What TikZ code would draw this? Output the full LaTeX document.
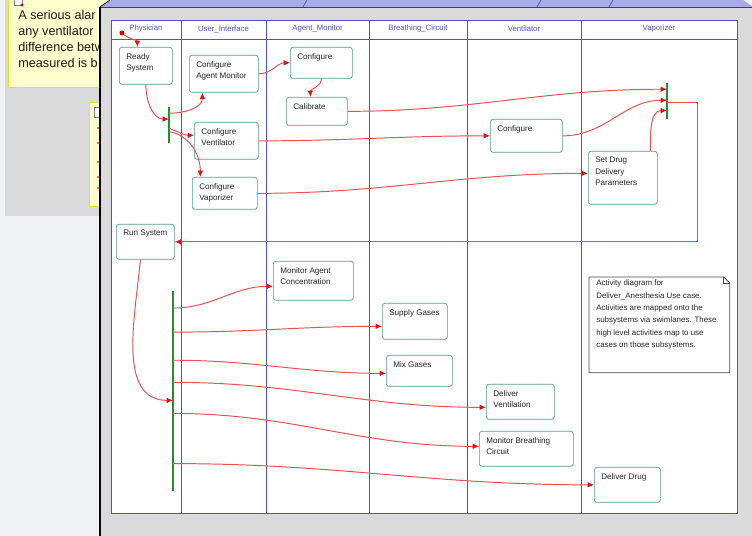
\documentclass[tikz,border=0pt]{standalone}
\usepackage{fontspec}
\setmainfont{Liberation Sans}
\usetikzlibrary{positioning}
\usetikzlibrary{calc}
\usetikzlibrary{arrows.meta}
\definecolor{Lane}{RGB}{80,80,215}
\definecolor{Flow}{RGB}{236,80,80}
\definecolor{Tip}{RGB}{220,20,20}
\definecolor{Bar}{RGB}{40,140,50}
\definecolor{Act}{RGB}{80,160,130}
\definecolor{Memo}{RGB}{255,255,205}
\definecolor{MemoLine}{RGB}{232,228,20}
\definecolor{Panel}{RGB}{218,218,218}
\definecolor{Desk}{RGB}{239,241,245}
\definecolor{Title}{RGB}{165,172,232}

\begin{document}
\begin{tikzpicture}[x=0.02cm, y=-0.02cm, >={Latex[length=3.6pt,width=3.2pt,color=Tip]},
    every node/.style={inner sep=0pt},
    act/.style 2 args={draw=Act, fill=white, rounded corners=1.5pt, anchor=north west,
      minimum width=#1*0.02cm, minimum height=#2*0.02cm},
    txt/.style={anchor=north west, align=left, xshift=0.14cm, yshift=-0.12cm,
      text=black!85, font=\fontsize{4.6}{6.5}\selectfont},
    lanename/.style={text=Lane, font=\fontsize{4.4}{5}\selectfont},
    bar/.style={fill=Bar, minimum width=1.6pt, anchor=north},
    flow/.style={Flow, line width=0.55pt, ->}]
  \useasboundingbox (0,0) rectangle (752,536);

  % desktop behind the window
  \fill[Desk] (0,0) rectangle (752,536);
  \fill[Panel] (5,0) rectangle (100,216);
  \draw[MemoLine, fill=Memo] (8,-2) rectangle (300,87);
  \draw[gray, fill=white, line width=0.3pt] (14,-1) rectangle (22,5);
  \fill[red!80!black] (22,5) circle (0.9pt);
  \node[anchor=north west, align=left, text=black!90, font=\fontsize{7.2}{9.07}\selectfont]
    (memotxt) at (18,10) {A serious alar\\any ventilator\\difference betw\\measured is b};
  \draw[MemoLine, fill=Memo] (89,102) rectangle (120,206);
  \draw[gray, fill=white, line width=0.3pt] (94,107) rectangle (101,117);
  \foreach \y in {128,143,162,177,188}
    \draw[orange, line width=0.8pt] (97,\y) -- (100,\y);

  % the editor window
  \fill[Panel] (100,7) rectangle (752,536);
  \fill[Title] (100,7) -- (110,0) -- (743,0) -- (752,6) -- (752,7) -- cycle;
  \draw[Lane!70!black, line width=0.4pt] (100,7) -- (752,7);
  \foreach \x in {303,537,609}
    \draw[Lane!70!black, line width=0.3pt] (\x,7) -- (\x+4,0);
  \draw[line width=1.2pt] (100,7) -- (100,536);
  \draw (100,7) -- (110,0);

  % swimlanes
  \draw[Lane, fill=white, line width=0.5pt] (111,20) rectangle (737,513);
  \draw[Lane, line width=0.5pt] (111,39) -- (737,39);
  \foreach \x in {181,266,369,467,581}
    \draw[Lane, line width=0.5pt] (\x,20) -- (\x,513);
  \node[lanename] (lphy) at (146,29) {Physician};
  \node[lanename] (lui) at (223.5,29) {User\_Interface};
  \node[lanename] (lam) at (317.5,29) {Agent\_Monitor};
  \node[lanename] (lbc) at (418,29) {Breathing\_Circuit};
  \node[lanename] (lven) at (524,29) {Ventilator};
  \node[lanename] (lvap) at (659,29) {Vaporizer};

  % activities
  \node[circle, fill=red!85!black, minimum size=0.1cm] (init) at (122,33) {};
  \node[act={53}{37}, label={[txt]north west:{Ready\\System}}] (rs) at (119,47) {};
  \node[act={69}{37}, label={[txt]north west:{Configure\\Agent Monitor}}] (cam) at (189,55) {};
  \node[act={62}{31}, label={[txt]north west:{Configure}}] (cfa) at (290,47) {};
  \node[act={61}{28}, label={[txt]north west:{Calibrate}}] (cal) at (286,97) {};
  \node[act={64}{37}, label={[txt]north west:{Configure\\Ventilator}}] (cvn) at (194,122) {};
  \node[act={65}{32}, label={[txt]north west:{Configure\\Vaporizer}}] (cvp) at (192,177) {};
  \node[act={72}{33}, label={[txt]north west:{Configure}}] (cfv) at (490,119) {};
  \node[act={69}{53}, label={[txt]north west:{Set Drug\\Delivery\\Parameters}}] (sdd) at (588,151) {};
  \node[act={58}{35}, label={[txt]north west:{Run System}}] (run) at (116,224) {};
  \node[act={80}{39}, label={[txt]north west:{Monitor Agent\\Concentration}}] (mac) at (273,261) {};
  \node[act={65}{36}, label={[txt]north west:{Supply Gases}}] (sg) at (382,303) {};
  \node[act={66}{31}, label={[txt]north west:{Mix Gases}}] (mg) at (386,355) {};
  \node[act={68}{35}, label={[txt]north west:{Deliver\\Ventilation}}] (dv) at (486,384) {};
  \node[act={94}{35}, label={[txt]north west:{Monitor Breathing\\Circuit}}] (mbc) at (479,431) {};
  \node[act={66}{35}, label={[txt]north west:{Deliver Drug}}] (dd) at (594,467) {};

  % fork and join bars
  \node[bar, minimum height=36*0.02cm] (f1) at (169,107) {};
  \node[bar, minimum height=36*0.02cm] (j1) at (667,83) {};
  \node[bar, minimum height=200*0.02cm] (f2) at (173,291) {};

  % note
  \node[anchor=north west, minimum width=140*0.02cm, minimum height=95*0.02cm] (note) at (589,277) {};
  \draw[black!70, fill=white, line width=0.5pt] (note.north west) -- ([xshift=-0.12cm]note.north east)
    -- ([yshift=-0.12cm]note.north east) -- (note.south east) -- (note.south west) -- cycle;
  \draw[black!70, line width=0.4pt] ([xshift=-0.12cm]note.north east)
    -- ([xshift=-0.12cm, yshift=-0.12cm]note.north east) -- ([yshift=-0.12cm]note.north east);
  \node[anchor=north west, align=left, text=black!85, font=\fontsize{4.5}{7.1}\selectfont]
    (notetxt) at ([xshift=0.14cm, yshift=-0.05cm]note.north west)
    {Activity diagram for\\Deliver\_Anesthesia Use case.\\Activities are mapped onto the\\
     subsystems via swimlanes. These\\high level activities map to use\\cases on those subsystems.};

  % control flow
  \draw[flow] (init) to[out=-40,in=90] ([xshift=-0.17cm]rs.north);
  \draw[flow] (rs.south) to[out=-90,in=180] ($(f1.north)!0.33!(f1.south)$);
  \draw[flow] ($(f1.north)!0.17!(f1.south)$) to[out=0,in=-90] ([xshift=-0.43cm]cam.south);
  \draw[flow] ($(f1.north)!0.58!(f1.south)$) to[out=-20,in=180] ([yshift=0.11cm]cvn.west);
  \draw[flow] ($(f1.north)!0.67!(f1.south)$) to[out=-10,in=90] ([xshift=-0.49cm]cvp.north);
  \draw[flow] (cam.east) to[out=0,in=180] (cfa.west);
  \draw[flow] (cfa.south) to[out=-90,in=90] ([xshift=-0.13cm]cal.north);
  \draw[flow] (cal.east) to[out=0,in=180] ($(j1.north)!0.17!(j1.south)$);
  \draw[flow] (cvn.east) to[out=0,in=180] (cfv.west);
  \draw[flow] (cvp.east) to[out=0,in=180] ([yshift=0.09cm]sdd.west);
  \draw[flow] (cfv.east) to[out=0,in=180] ($(j1.north)!0.47!(j1.south)$);
  \draw[flow] ([xshift=0.55cm]sdd.north) to[out=90,in=180] ($(j1.north)!0.75!(j1.south)$);
  \draw[flow] ($(j1.north)!0.53!(j1.south)$) -- ++(30,0) |- (run.east);
  \draw[flow] ([xshift=-0.1cm]run.south) to[out=-95,in=180] ($(f2.north)!0.545!(f2.south)$);
  \foreach \f/\t/\s in {0.085/mac/-0.11, 0.205/sg/-0.1, 0.345/mg/-0.05,
                        0.455/dv/-0.11, 0.61/mbc/0.05, 0.86/dd/0}
    \draw[flow] ($(f2.north)!\f!(f2.south)$) to[out=0,in=180] ([yshift=\s cm]\t.west);
\end{tikzpicture}
\end{document}
